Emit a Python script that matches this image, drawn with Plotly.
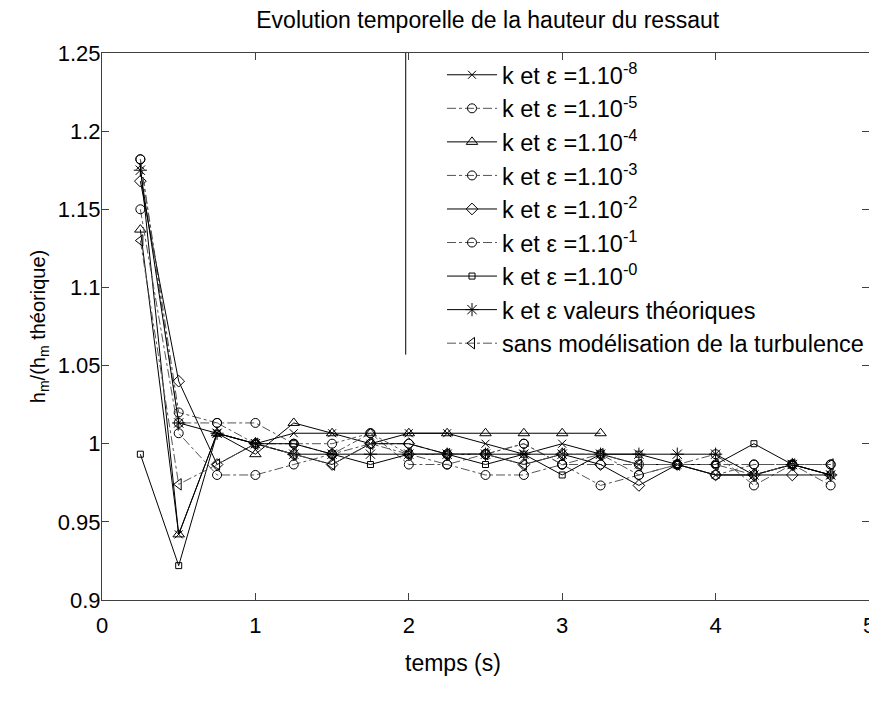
import plotly.graph_objects as go

# time axis (s)
t = [0.25, 0.5, 0.75, 1.0, 1.25, 1.5, 1.75, 2.0, 2.25, 2.5, 2.75, 3.0, 3.25,
     3.5, 3.75, 4.0, 4.25, 4.5, 4.75]

# h_m / h_m theorique for each run
k_eps_1e_8 = [1.178, 0.942, 1.0067, 1.0, 1.0067, 1.0067, 1.0, 1.0067, 1.0067, 1.0,
              0.9933, 1.0, 0.9933, 0.9867, 0.9867, 0.98, 0.98, 0.9867, 0.98]
k_eps_1e_5 = [1.182, 1.02, 1.0133, 1.0133, 1.0, 1.0, 1.0067, 0.9867, 0.9867, 0.98,
              0.98, 0.9867, 0.9733, 0.98, 0.9867, 0.9933, 0.9733, 0.9867, 0.9867]
k_eps_1e_4 = [1.137, 0.942, 1.0067, 0.9933, 1.0133, 1.0067, 1.0067, 1.0067, 1.0067,
              1.0067, 1.0067, 1.0067, 1.0067]
k_eps_1e_3 = [1.15, 1.0067, 0.98, 0.98, 0.9867, 0.9933, 1.0, 1.0, 0.9933, 0.9933,
              1.0, 0.9867, 0.9867, 0.9867, 0.9867, 0.98, 0.9867, 0.9867, 0.9733]
k_eps_1e_2 = [1.168, 1.04, 0.9867, 1.0, 0.9933, 0.9867, 1.0, 1.0, 0.9933, 0.9933,
              0.9867, 0.9933, 0.9867, 0.9733, 0.9867, 0.98, 0.98, 0.98, 0.98]
k_eps_1e_1 = [1.182, 1.0133, 1.0133, 1.0, 1.0, 0.9933, 1.0067, 0.9933, 0.9867, 0.9933,
              1.0, 0.9867, 0.9933, 0.98, 0.9867, 0.9867, 0.9867, 0.9867, 0.9867]
k_eps_1e_0 = [0.9933, 0.922, 1.0067, 1.0, 1.0, 0.9933, 0.9867, 0.9933, 0.9933, 0.9867,
              0.9933, 0.98, 0.9933, 0.9933, 0.9867, 0.9867, 1.0, 0.9867, 0.98]
k_eps_theo = [1.175, 1.0133, 1.0067, 1.0, 0.9933, 0.9933, 0.9933, 0.9933, 0.9933, 0.9933,
              0.9933, 0.9933, 0.9933, 0.9933, 0.9933, 0.9933, 0.98, 0.9867, 0.98]
sans_turb = [1.13, 0.974, 0.9867, 1.0, 0.9933, 0.9867, 1.0, 0.9933, 0.9933, 0.9933,
             0.9867, 0.9933, 0.9933, 0.9867, 0.9867, 0.9867, 0.98, 0.9867, 0.9867]

names = ["k et ε =1.10<sup>-8</sup>", "k et ε =1.10<sup>-5</sup>", "k et ε =1.10<sup>-4</sup>",
         "k et ε =1.10<sup>-3</sup>", "k et ε =1.10<sup>-2</sup>", "k et ε =1.10<sup>-1</sup>",
         "k et ε =1.10<sup>-0</sup>", "k et ε valeurs théoriques",
         "sans modélisation de la turbulence"]
series = [k_eps_1e_8, k_eps_1e_5, k_eps_1e_4, k_eps_1e_3, k_eps_1e_2, k_eps_1e_1,
          k_eps_1e_0, k_eps_theo, sans_turb]
symbols = ["x-thin-open", "circle-open", "triangle-up-open", "circle-open", "diamond-open",
           "circle-open", "square-open", "asterisk-open", "triangle-left-open"]
sizes = [8, 9, 10, 9, 9, 9, 6, 11, 10]
dashes = ["solid", "dashdot", "solid", "dashdot", "solid", "dashdot", "solid", "solid", "dashdot"]

fig = go.Figure()
for nm, y, sym, sz, ds in zip(names, series, symbols, sizes, dashes):
    col = "#000000" if ds == "solid" else "#555555"
    fig.add_trace(go.Scatter(
        x=t[:len(y)], y=y, name=nm, mode="lines+markers",
        line=dict(color=col, width=1, dash=ds),
        marker=dict(symbol=sym, size=sz, color="#000000",
                    line=dict(color="#000000", width=1)),
    ))

fig.add_shape(type="line", xref="x", yref="y", x0=1.98, x1=1.98, y0=1.057, y1=1.25,
              line=dict(color="#000000", width=1))

fig.add_annotation(text="temps (s)", xref="paper", yref="paper", x=0.458, y=0,
                   xanchor="center", yanchor="top", yshift=-48, showarrow=False,
                   font=dict(size=23))

axis_common = dict(showline=True, linecolor="#404040", linewidth=1, mirror="allticks",
                   ticks="inside", ticklen=7, tickcolor="#404040", showgrid=False,
                   zeroline=False, automargin=False, tickfont=dict(size=22, color="#000000"))

fig.update_layout(
    width=869, height=696,
    margin=dict(l=94, r=8, t=45, b=104),
    paper_bgcolor="white", plot_bgcolor="white",
    font=dict(family="Liberation Sans, Arial, sans-serif", color="#000000"),
    title=dict(text="Evolution temporelle de la hauteur du ressaut", x=0.552, xanchor="center",
               y=0.994, yanchor="top", font=dict(size=23)),
    xaxis=dict(range=[0, 5], dtick=1, ticklabelstandoff=6, **axis_common),
    yaxis=dict(range=[0.9, 1.25], dtick=0.05, ticklabelstandoff=-4,
               title=dict(text="h<sub>m</sub>/(h<sub>m</sub> théorique)", font=dict(size=20),
                          standoff=6),
               **axis_common),
    legend=dict(x=1, xanchor="right", y=1, yanchor="top", bgcolor="rgba(255,255,255,0)",
                borderwidth=0, font=dict(size=23.5), tracegroupgap=0, itemwidth=50),
)

fig.write_html("out.html")
